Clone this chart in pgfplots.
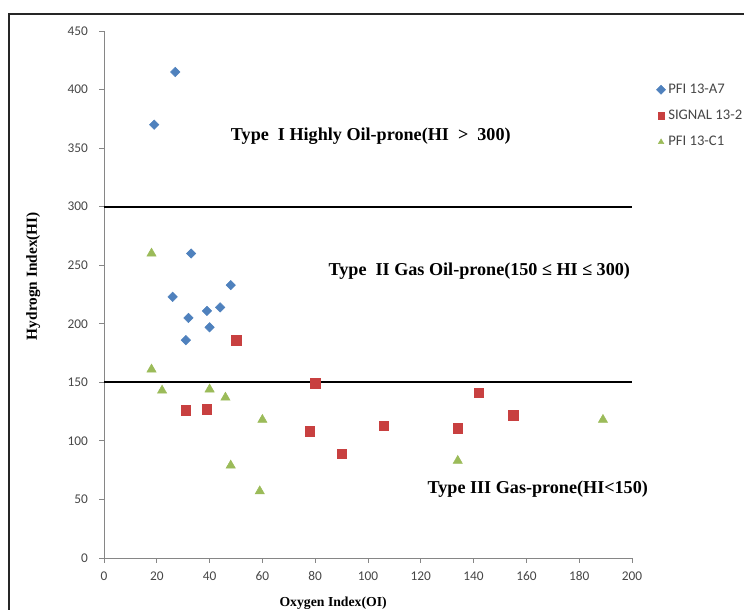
\documentclass[border=0pt]{standalone}
\usepackage{fontspec}
\setmainfont{Liberation Serif}
\newfontfamily\calibri{Carlito}
\usepackage{pgfplots}
\pgfplotsset{compat=1.18}

\definecolor{xlblue}{RGB}{79,129,189}
\definecolor{xlred}{RGB}{200,64,64}
\definecolor{xlgreen}{RGB}{155,187,89}
\definecolor{axgray}{RGB}{134,134,134}
\definecolor{tkgray}{RGB}{70,70,70}

\begin{document}
\begin{tikzpicture}
\useasboundingbox (0,0) rectangle (558pt,457.5pt);
% outer chart frame (cut off at right and bottom)
\draw[line width=1.5pt,black!85] (6.75pt,-2pt) -- (6.75pt,447pt) -- (560pt,447pt);

\begin{axis}[
  at={(78pt,39pt)}, anchor=south west,
  scale only axis,
  width=396pt, height=395.25pt,
  xmin=0, xmax=200, ymin=0, ymax=450,
  xtick={0,20,...,200}, ytick={0,50,...,450},
  axis x line*=bottom, axis y line*=left,
  axis line style={draw=axgray,line width=0.6pt,-},
  tick style={draw=axgray,line width=0.6pt},
  tick align=outside, major tick length=3.5pt,
  /pgf/number format/assume math mode=true,
  tick label style={font=\calibri\fontsize{10}{12}\selectfont,text=tkgray},
  xticklabel style={yshift=-3pt},
  yticklabel style={xshift=-5pt},
  xlabel={Oxygen Index(OI)},
  ylabel={Hydrogn Index(HI)},
  xlabel style={font=\bfseries\fontsize{10.3}{12}\selectfont,
    at={(axis description cs:0.434,-0.0854)},anchor=center},
  ylabel style={font=\bfseries\fontsize{11.5}{13}\selectfont,
    at={(axis description cs:-0.134,0.535)},anchor=center},
  clip=false,
  legend cell align=left,
  legend style={draw=none,fill=none,
    at={(axis description cs:1.046,0.905)},anchor=north west,
    font=\calibri\fontsize{11}{13}\selectfont,text=tkgray,
    row sep=7pt, inner sep=0pt},
  legend image code/.code={\draw[#1,mark size=2.4pt] plot coordinates {(0.1cm,0cm)};},
]
\addplot[only marks, mark=square*, mark size=2.5pt,
  mark options={rotate=45,draw=xlblue,fill=xlblue}] coordinates {
  (19,370) (27,415) (33,260) (26,223) (32,205) (39,211)
  (44,214) (48,233) (40,197) (31,186)
};
\addlegendentry{PFI 13-A7}
\addplot[only marks, mark=square*, mark size=3.6pt,
  mark options={draw=xlred,fill=xlred}] coordinates {
  (50,186) (31,126) (39,127) (80,149) (78,108) (90,89)
  (106,113) (134,111) (142,141) (155,122)
};
\addlegendentry{SIGNAL 13-2}
\addplot[only marks, mark=triangle*, mark size=4pt,
  mark options={draw=xlgreen,fill=xlgreen}] coordinates {
  (18,260) (18,161) (22,143) (40,144) (46,137) (60,118)
  (48,79) (59,57) (134,83) (189,118)
};
\addlegendentry{PFI 13-C1}

\addplot[black,line width=1.6pt,forget plot] coordinates {(0,300) (200,300)};
\addplot[black,line width=1.6pt,forget plot] coordinates {(0,150) (200,150)};

\node[anchor=west,inner sep=0pt,font=\bfseries\fontsize{13.6}{15}\selectfont] at (axis cs:48,360)
  {Type\ \ I Highly Oil-prone(HI \ \textgreater\ \ 300)};
\node[anchor=west,inner sep=0pt,font=\bfseries\fontsize{13.6}{15}\selectfont] at (axis cs:85,245)
  {Type\ \ II Gas Oil-prone(150 ≤ HI ≤ 300)};
\node[anchor=west,inner sep=0pt,font=\bfseries\fontsize{13.6}{15}\selectfont] at (axis cs:122.5,59)
  {Type III Gas-prone(HI<150)};
\end{axis}
\end{tikzpicture}
\end{document}
